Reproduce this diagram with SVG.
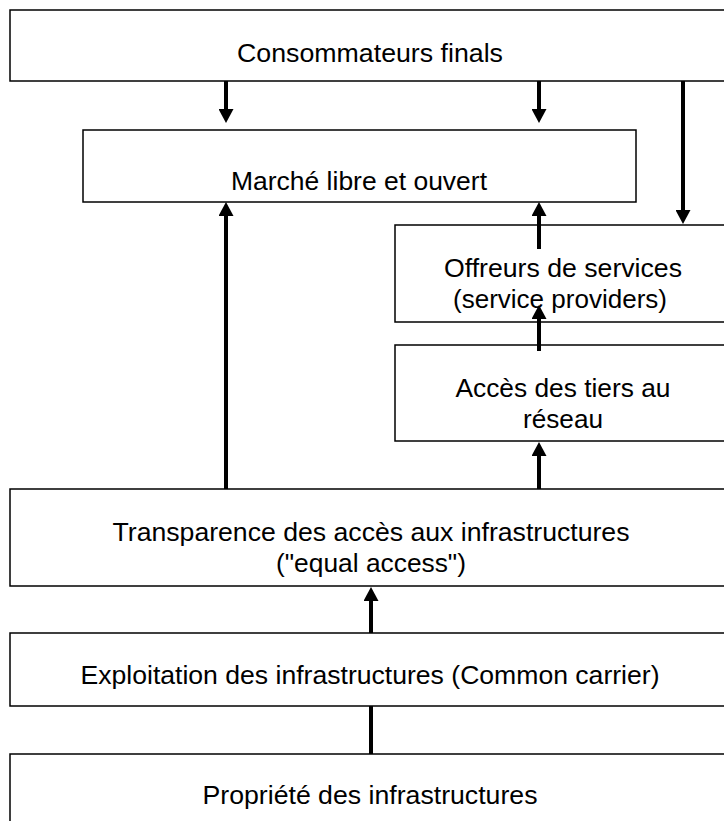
<svg xmlns="http://www.w3.org/2000/svg" width="724" height="821" viewBox="0 0 724 821">
  <style>
    .box { fill: #fff; stroke: #000; stroke-width: 1.5; }
    .lbl { font-family: "Liberation Sans", Arial, sans-serif; font-size: 25px; fill: #000; text-anchor: middle; }
    .conn { stroke: #000; stroke-width: 4; fill: none; }
    .arr { marker-end: url(#head); }
  </style>
  <defs>
    <marker id="head" viewBox="0 0 14 15" refX="0" refY="7.5" markerWidth="14" markerHeight="15" markerUnits="userSpaceOnUse" orient="auto">
      <path d="M0,0 L14,7.5 L0,15 z" fill="#000"/>
    </marker>
  </defs>
  <rect width="724" height="821" fill="#fff"/>

  <g id="consommateurs">
    <rect class="box" x="10" y="10" width="730" height="71"/>
    <text class="lbl" x="370" y="62" textLength="266" lengthAdjust="spacingAndGlyphs">Consommateurs finals</text>
  </g>
  <g id="marche">
    <rect class="box" x="83" y="130" width="553" height="72"/>
    <text class="lbl" x="359" y="190" textLength="256" lengthAdjust="spacingAndGlyphs">Marché libre et ouvert</text>
  </g>
  <g id="offreurs">
    <rect class="box" x="395" y="225" width="345" height="97"/>
    <text class="lbl" x="563" y="277" textLength="238" lengthAdjust="spacingAndGlyphs">Offreurs de services</text>
    <text class="lbl" x="560" y="308" textLength="214" lengthAdjust="spacingAndGlyphs">(service providers)</text>
  </g>
  <g id="acces">
    <rect class="box" x="395" y="345" width="345" height="96"/>
    <text class="lbl" x="563" y="397" textLength="215" lengthAdjust="spacingAndGlyphs">Accès des tiers au</text>
    <text class="lbl" x="563" y="428" textLength="80" lengthAdjust="spacingAndGlyphs">réseau</text>
  </g>
  <g id="transparence">
    <rect class="box" x="10" y="489" width="730" height="97"/>
    <text class="lbl" x="371" y="541" textLength="517" lengthAdjust="spacingAndGlyphs">Transparence des accès aux infrastructures</text>
    <text class="lbl" x="371" y="572" textLength="190" lengthAdjust="spacingAndGlyphs">("equal access")</text>
  </g>
  <g id="exploitation">
    <rect class="box" x="10" y="633" width="730" height="73"/>
    <text class="lbl" x="370" y="684" textLength="579" lengthAdjust="spacingAndGlyphs">Exploitation des infrastructures (Common carrier)</text>
  </g>
  <g id="propriete">
    <rect class="box" x="10" y="754" width="730" height="80"/>
    <text class="lbl" x="370" y="804" textLength="335" lengthAdjust="spacingAndGlyphs">Propriété des infrastructures</text>
  </g>

  <g id="connectors">
    <line class="conn arr" x1="226" y1="81" x2="226" y2="109"/>
    <line class="conn arr" x1="539" y1="81" x2="539" y2="109"/>
    <line class="conn arr" x1="683" y1="81" x2="683" y2="210"/>
    <line class="conn arr" x1="226" y1="489" x2="226" y2="216"/>
    <line class="conn arr" x1="539" y1="249" x2="539" y2="216"/>
    <line class="conn arr" x1="539" y1="351" x2="539" y2="319"/>
    <line class="conn arr" x1="539" y1="489" x2="539" y2="456"/>
    <line class="conn arr" x1="371" y1="633" x2="371" y2="601"/>
    <line class="conn" x1="371" y1="706" x2="371" y2="754"/>
  </g>
</svg>
